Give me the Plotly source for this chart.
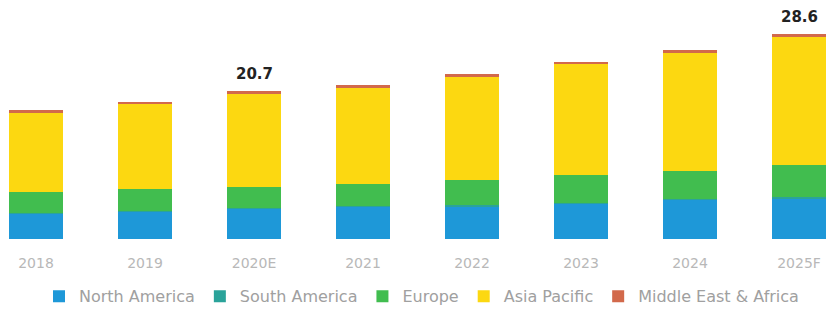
import plotly.graph_objects as go

years = ["2018", "2019", "2020E", "2021", "2022", "2023", "2024", "2025F"]
north_america = [3.6, 3.8, 4.3, 4.5, 4.6, 5.0, 5.5, 5.7]
south_america = [0.1, 0.1, 0.1, 0.1, 0.1, 0.1, 0.1, 0.1]
europe = [2.8, 3.1, 2.9, 3.1, 3.5, 3.8, 3.9, 4.5]
asia_pacific = [11.1, 11.9, 13.0, 13.4, 14.4, 15.5, 16.5, 17.9]
mea = [0.4, 0.3, 0.4, 0.4, 0.5, 0.4, 0.4, 0.4]
labelled = {"2020E": "20.7", "2025F": "28.6"}

series = [
    ("North America", north_america, "#1E98D8"),
    ("South America", south_america, "#2AA39A"),
    ("Europe", europe, "#41BD4F"),
    ("Asia Pacific", asia_pacific, "#FCD811"),
    ("Middle East & Africa", mea, "#D2694B"),
]

fig = go.Figure()
for name, vals, col in series:
    fig.add_trace(go.Bar(
        x=years, y=vals, name=name, marker=dict(color=col, line=dict(width=0)),
        width=0.5,
    ))

totals = [sum(v) for v in zip(north_america, south_america, europe, asia_pacific, mea)]
for yr, tot in zip(years, totals):
    if yr in labelled:
        fig.add_annotation(x=yr, y=tot, text="<b>" + labelled[yr] + "</b>", showarrow=False,
                           yanchor="bottom", yshift=6,
                           font=dict(family="DejaVu Sans", size=15, color="#222222"))

# the page body adds an 8px offset, so the figure is sized to fill the rest of the window
fig.update_layout(
    barmode="stack",
    width=827, height=302,
    margin=dict(l=0, r=0, t=2, b=71, autoexpand=False),
    paper_bgcolor="white", plot_bgcolor="white",
    showlegend=True,
    legend=dict(orientation="h", x=0.5, xanchor="center", y=-0.25,
                yanchor="middle", traceorder="normal", itemwidth=30,
                font=dict(family="DejaVu Sans", size=16, color="#a0a0a0")),
    xaxis=dict(range=[-0.257, 7.33], showgrid=False, zeroline=False, showline=False,
               ticks="", ticklabelstandoff=14, automargin=False,
               tickfont=dict(family="DejaVu Sans", size=14, color="#b8b8b8")),
    yaxis=dict(range=[0, 32.0], visible=False, showgrid=False, zeroline=False,
               automargin=False),
)

fig.write_html("out.html")
